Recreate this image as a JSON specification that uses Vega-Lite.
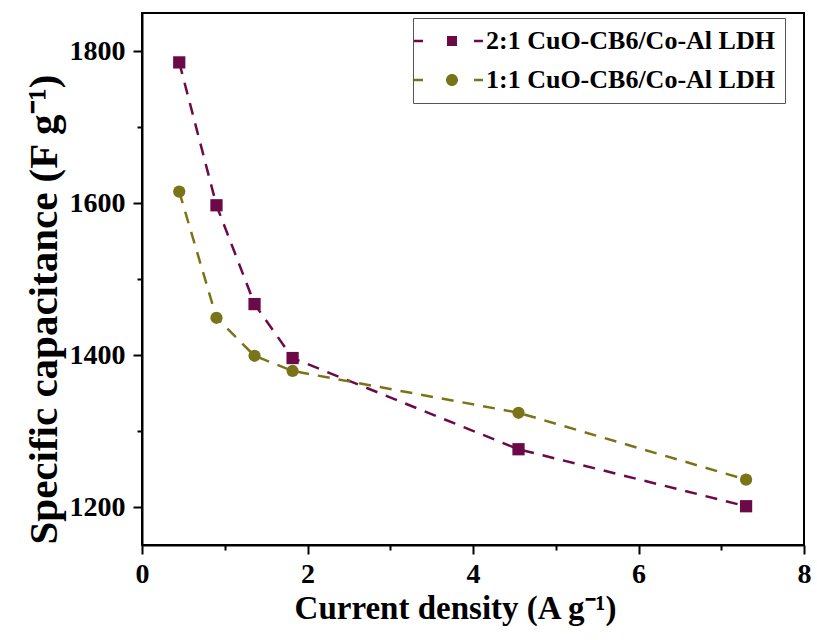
{
  "$schema": "https://vega.github.io/schema/vega-lite/v6.json",
  "width": 662,
  "height": 532,
  "autosize": "none",
  "padding": {"left": 142, "top": 13, "right": 13, "bottom": 95},
  "background": "white",
  "config": {
    "view": {"stroke": "black", "strokeWidth": 2},
    "font": "Liberation Serif",
    "axis": {
      "labelFont": "Liberation Serif",
      "labelFontSize": 28,
      "labelFontWeight": "bold",
      "labelColor": "black",
      "titleFont": "Liberation Serif",
      "titleFontWeight": "bold",
      "titleColor": "black"
    }
  },
  "data": {
    "values": [
      {"sample": "2:1 CuO-CB6/Co-Al LDH", "density": 0.45, "capacitance": 1785},
      {"sample": "2:1 CuO-CB6/Co-Al LDH", "density": 0.9, "capacitance": 1597},
      {"sample": "2:1 CuO-CB6/Co-Al LDH", "density": 1.36, "capacitance": 1467},
      {"sample": "2:1 CuO-CB6/Co-Al LDH", "density": 1.82, "capacitance": 1396},
      {"sample": "2:1 CuO-CB6/Co-Al LDH", "density": 4.55, "capacitance": 1276},
      {"sample": "2:1 CuO-CB6/Co-Al LDH", "density": 7.3, "capacitance": 1201},
      {"sample": "1:1 CuO-CB6/Co-Al LDH", "density": 0.45, "capacitance": 1615},
      {"sample": "1:1 CuO-CB6/Co-Al LDH", "density": 0.9, "capacitance": 1449},
      {"sample": "1:1 CuO-CB6/Co-Al LDH", "density": 1.36, "capacitance": 1399},
      {"sample": "1:1 CuO-CB6/Co-Al LDH", "density": 1.82, "capacitance": 1379},
      {"sample": "1:1 CuO-CB6/Co-Al LDH", "density": 4.55, "capacitance": 1324},
      {"sample": "1:1 CuO-CB6/Co-Al LDH", "density": 7.3, "capacitance": 1236}
    ]
  },
  "encoding": {
    "x": {
      "field": "density",
      "type": "quantitative",
      "scale": {"domain": [0, 8], "nice": false, "zero": false},
      "axis": {
        "values": [0, 1, 2, 3, 4, 5, 6, 7, 8],
        "labelExpr": "datum.value % 2 === 0 ? datum.label : ''",
        "grid": false,
        "tickSize": {"condition": {"test": "datum.value % 2 !== 0", "value": 5}, "value": 9},
        "tickWidth": 2,
        "tickColor": "black",
        "domainColor": "black",
        "domainWidth": 2,
        "labelFontSize": 28,
        "labelFontWeight": "bold",
        "labelPadding": 6,
        "labelFlush": false,
        "labelOverlap": false,
        "title": "Current density (A g⁻¹)",
        "titleFontSize": 33,
        "titleX": 313,
        "titlePadding": 4,
        "encode": {"labels": {"update": {"fontWeight": {"value": "bold"}}}}
      }
    },
    "y": {
      "field": "capacitance",
      "type": "quantitative",
      "scale": {"domain": [1150, 1850], "nice": false, "zero": false},
      "axis": {
        "values": [1200, 1300, 1400, 1500, 1600, 1700, 1800],
        "labelExpr": "datum.value % 200 === 0 ? datum.label : ''",
        "format": "d",
        "grid": false,
        "tickSize": {"condition": {"test": "datum.value % 200 !== 0", "value": 5}, "value": 9},
        "tickWidth": 2,
        "tickColor": "black",
        "domainColor": "black",
        "domainWidth": 2,
        "labelFontSize": 28,
        "labelFontWeight": "bold",
        "labelPadding": 8,
        "labelOverlap": false,
        "title": "Specific capacitance (F g⁻¹)",
        "titleFontSize": 41,
        "titleY": 296,
        "titlePadding": 4,
        "encode": {"labels": {"update": {"fontWeight": {"value": "bold"}}}}
      }
    },
    "color": {
      "field": "sample",
      "type": "nominal",
      "scale": {"domain": ["2:1 CuO-CB6/Co-Al LDH", "1:1 CuO-CB6/Co-Al LDH"], "range": ["#6b0a47", "#7a7418"]},
      "legend": {
        "orient": "none",
        "legendX": 271,
        "legendY": 5,
        "title": null,
        "padding": 10,
        "strokeColor": "#555555",
        "fillColor": "white",
        "symbolSize": 100,
        "symbolOffset": 16,
        "labelOffset": 21,
        "rowPadding": 13,
        "labelFont": "Liberation Serif",
        "labelFontSize": 26,
        "labelFontWeight": "bold",
        "labelColor": "black",
        "labelLimit": 500,
        "symbolStrokeWidth": 0,
        "symbolDash": [],
        "symbolOpacity": 1,
        "symbolType": {"expr": "datum.value === '2:1 CuO-CB6/Co-Al LDH' ? 'M-7.6,-0.25H-5.8V0.25H-7.6Z M-1,-1H1V1H-1Z M4.4,-0.25H6.2V0.25H4.4Z' : 'M-7.6,-0.25H-5.8V0.25H-7.6Z M-1.2,0A1.2,1.2 0 1,1 1.2,0A1.2,1.2 0 1,1 -1.2,0Z M4.4,-0.25H6.2V0.25H4.4Z'"}
      }
    }
  },
  "layer": [
    {
      "mark": {"type": "line", "strokeDash": [12, 9], "strokeWidth": 2.5}
    },
    {
      "transform": [{"filter": "datum.sample === '2:1 CuO-CB6/Co-Al LDH'"}],
      "mark": {"type": "point", "shape": "square", "filled": true, "size": 150, "opacity": 1, "strokeWidth": 0}
    },
    {
      "transform": [{"filter": "datum.sample === '1:1 CuO-CB6/Co-Al LDH'"}],
      "mark": {"type": "point", "shape": "circle", "filled": true, "size": 150, "opacity": 1, "strokeWidth": 0}
    }
  ]
}
